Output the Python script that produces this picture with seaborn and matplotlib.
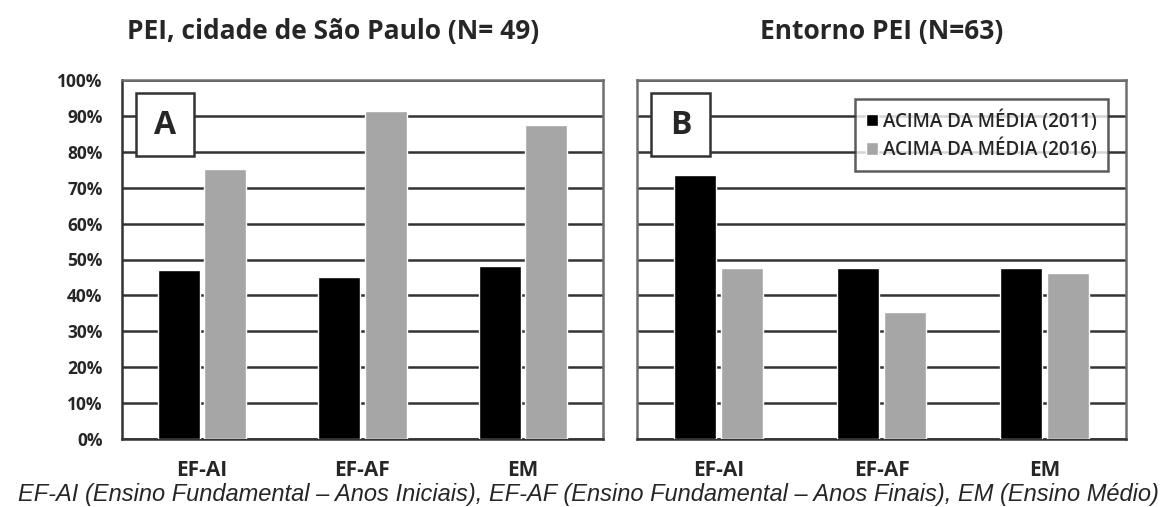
import pandas as pd
import matplotlib.pyplot as plt
import seaborn as sns
from matplotlib.patches import Rectangle

# Dados (% de escolas acima da média)
etapas = ['EF-AI', 'EF-AF', 'EM']
anos = ['ACIMA DA MÉDIA (2011)', 'ACIMA DA MÉDIA (2016)']
pei_2011 = [47, 45, 48.3]
pei_2016 = [75.2, 91.4, 87.5]
entorno_2011 = [73.6, 47.7, 47.7]
entorno_2016 = [47.7, 35.5, 46.3]

titulos = ['PEI, cidade de São Paulo (N= 49)', 'Entorno PEI (N=63)']
letras = ['A', 'B']
legenda_txt = 'EF-AI (Ensino Fundamental – Anos Iniciais), EF-AF (Ensino Fundamental – Anos Finais), EM (Ensino Médio)'


def monta_df(v2011, v2016):
    return pd.DataFrame({
        'etapa': etapas * 2,
        'pct': list(v2011) + list(v2016),
        'ano': [anos[0]] * 3 + [anos[1]] * 3,
    })


sns.set_style('white')
plt.rcParams['font.family'] = ['Open Sans', 'DejaVu Sans']

fig = plt.figure(figsize=(11.74, 5.07), dpi=100)
ax_a = fig.add_axes([122 / 1174, 1 - 439 / 507, 481 / 1174, 359 / 507])
ax_b = fig.add_axes([637 / 1174, 1 - 439 / 507, 489 / 1174, 359 / 507])

cores = ['#000000', '#a6a6a6']
dados = [monta_df(pei_2011, pei_2016), monta_df(entorno_2011, entorno_2016)]

for i, (ax, df) in enumerate(zip([ax_a, ax_b], dados)):
    sns.barplot(data=df, x='etapa', y='pct', hue='ano', palette=cores,
                width=0.58, gap=0.1, saturation=1, legend=False, ax=ax,
                zorder=3)
    ax.set_ylim(0, 100)
    ax.set_xlim(-0.5, 2.5)
    ax.set_yticks(range(0, 101, 10))
    ax.yaxis.grid(True, color='#333333', lw=1.8, zorder=0)
    ax.set_axisbelow(True)
    ax.set_xlabel('')
    ax.set_ylabel('')
    ax.tick_params(axis='x', direction='out', length=4, width=1.2,
                   color='#3a3a3a', pad=11, labelsize=15)
    for t in ax.get_xticklabels():
        t.set_fontweight('bold')
    for lado in ['top', 'right', 'left', 'bottom']:
        ax.spines[lado].set_visible(True)
        ax.spines[lado].set_color('#6e6e6e')
        ax.spines[lado].set_linewidth(1.8)
    ax.spines['bottom'].set_color('#333333')

    # caixa com a letra do painel
    ax.add_patch(Rectangle((0.029, 0.787), 0.121, 0.178, transform=ax.transAxes,
                           facecolor='white', edgecolor='#333333', lw=1.8,
                           zorder=5))
    ax.text(0.0895, 0.872, letras[i], transform=ax.transAxes, ha='center',
            va='center', fontsize=23, fontweight='bold', zorder=6)

# eixo y
ax_a.set_yticklabels([f'{v}%' for v in range(0, 101, 10)])
ax_a.tick_params(axis='y', direction='out', length=5, width=1.4,
                 color='#3a3a3a', pad=9, labelsize=12.5)
for t in ax_a.get_yticklabels():
    t.set_fontweight('bold')
ax_a.spines['left'].set_color('#333333')
ax_b.set_yticklabels([])
ax_b.tick_params(axis='y', length=0)

# legenda no painel B
leg = ax_b.legend(ax_b.containers, anos, loc='upper right',
                  bbox_to_anchor=(0.963, 0.947), borderaxespad=0,
                  frameon=True, fancybox=False, fontsize=13.5,
                  handlelength=0.65, handleheight=0.65, handletextpad=0.25,
                  labelspacing=0.35, borderpad=0.6)
leg.get_frame().set_edgecolor('#333333')
leg.get_frame().set_linewidth(1.8)
leg.set_zorder(7)
for t in leg.get_texts():
    t.set_fontweight('semibold')

# títulos
fig.text(333 / 1174, 1 - 31 / 507, titulos[0], ha='center', va='center',
         fontsize=19, fontweight='bold')
fig.text(882 / 1174, 1 - 31 / 507, titulos[1], ha='center', va='center',
         fontsize=19, fontweight='bold')

# nota de rodapé
fig.text(588 / 1174, 1 - 494 / 507, legenda_txt, ha='center', va='center',
         fontsize=17, style='italic',
         family=['Liberation Sans', 'DejaVu Sans'])

fig.savefig('out.png', dpi=100)
